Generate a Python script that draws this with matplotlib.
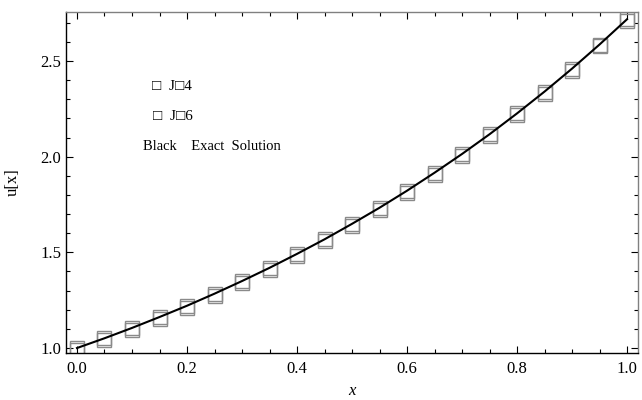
import numpy as np
import matplotlib
matplotlib.use("Agg")
import matplotlib.pyplot as plt
from matplotlib.ticker import MultipleLocator

plt.rcParams['font.family'] = ['Liberation Serif', 'DejaVu Sans']

# values
x = [0.00, 0.05, 0.10, 0.15, 0.20, 0.25, 0.30, 0.35, 0.40, 0.45, 0.50,
     0.55, 0.60, 0.65, 0.70, 0.75, 0.80, 0.85, 0.90, 0.95, 1.00]
exact = [1.000, 1.051, 1.105, 1.162, 1.221, 1.284, 1.350, 1.419, 1.492, 1.568, 1.649,
         1.733, 1.822, 1.916, 2.014, 2.117, 2.226, 2.340, 2.460, 2.586, 2.718]
j6 = [1.000, 1.051, 1.105, 1.162, 1.221, 1.284, 1.350, 1.419, 1.492, 1.568, 1.649,
      1.733, 1.822, 1.916, 2.014, 2.117, 2.226, 2.340, 2.460, 2.586, 2.718]
j4 = [0.990, 1.041, 1.095, 1.152, 1.211, 1.274, 1.340, 1.409, 1.482, 1.558, 1.639,
      1.723, 1.812, 1.906, 2.004, 2.107, 2.216, 2.330, 2.450, 2.576, 2.708]

fig = plt.figure(figsize=(6.42, 4.0), dpi=100)
ax = fig.add_axes([0.1028, 0.1175, 0.891, 0.8525])

ax.plot(x, j4, linestyle='none', marker='s', markersize=10, markerfacecolor='none',
        markeredgecolor='#8a8a8a', markeredgewidth=1.0)
ax.plot(x, j6, linestyle='none', marker='s', markersize=10, markerfacecolor='none',
        markeredgecolor='#8a8a8a', markeredgewidth=1.0)
ax.plot(x, exact, color='black', linewidth=1.5)

ax.set_xlim(-0.02, 1.02)
ax.set_ylim(0.974, 2.756)
ax.xaxis.set_major_locator(MultipleLocator(0.2))
ax.xaxis.set_minor_locator(MultipleLocator(0.05))
ax.yaxis.set_major_locator(MultipleLocator(0.5))
ax.yaxis.set_minor_locator(MultipleLocator(0.1))
ax.tick_params(which='both', direction='in', top=True, right=True, labelsize=12, width=0.8)
ax.tick_params(which='major', length=5)
ax.tick_params(which='minor', length=3)
ax.tick_params(axis='x', pad=6)
for s in ['top', 'right']:
    ax.spines[s].set_color('#808080')
for s in ax.spines.values():
    s.set_linewidth(1.0)

ax.set_xlabel('x', fontsize=12, style='italic', labelpad=4)
ax.set_ylabel('u[x]', fontsize=12, labelpad=14)

ax.text(0.150, 0.772, '\u25a1  J\u25a14', transform=ax.transAxes, fontsize=11)
ax.text(0.152, 0.684, '\u25a1  J\u25a16', transform=ax.transAxes, fontsize=11)
ax.text(0.135, 0.595, 'Black    Exact  Solution', transform=ax.transAxes, fontsize=10.5)

fig.savefig('out.png', dpi=100)
